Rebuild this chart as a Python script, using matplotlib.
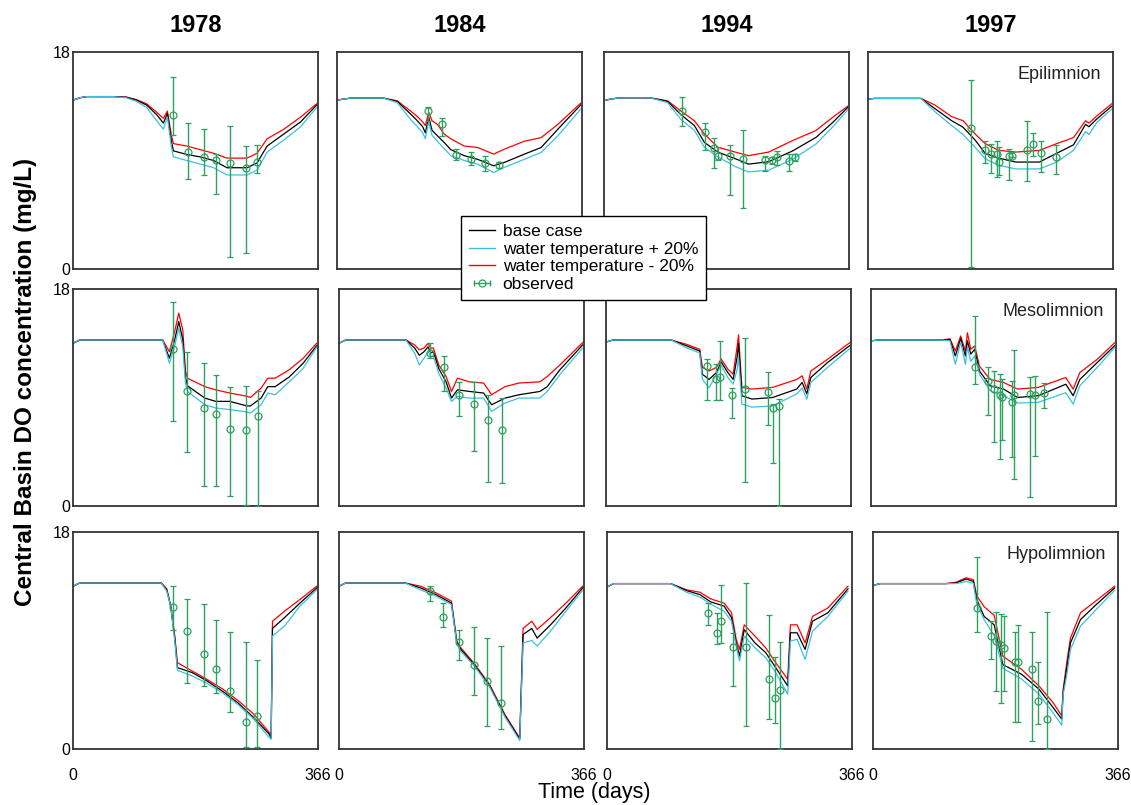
import matplotlib
matplotlib.use('Agg')
from matplotlib import pyplot as plt
from matplotlib.lines import Line2D
from matplotlib.legend_handler import HandlerLine2D, HandlerTuple
import numpy as np

plt.rcParams['font.family'] = ['Liberation Sans', 'DejaVu Sans']

years = ['1978', '1984', '1994', '1997']
layers = ['Epilimnion', 'Mesolimnion', 'Hypolimnion']

# ---- Epilimnion ----
e78_t = [0, 10, 20, 60, 80, 95, 110, 125, 135, 141, 147, 150, 170, 190, 210, 230, 260, 275, 290, 315, 340, 364]
e78_base = [14.0, 14.2, 14.3, 14.3, 14.25, 14.0, 13.6, 12.8, 12.1, 12.9, 10.6, 9.8, 9.5, 9.3, 9.0, 8.4, 8.4, 8.8, 10.2, 11.2, 12.2, 13.6]
e78_warm = [14.0, 14.2, 14.3, 14.3, 14.2, 13.9, 13.4, 12.3, 11.6, 12.6, 10.1, 9.3, 9.0, 8.7, 8.4, 7.8, 7.8, 8.2, 9.7, 10.7, 11.8, 13.4]
e78_cool = [14.0, 14.2, 14.3, 14.3, 14.25, 14.05, 13.7, 13.0, 12.5, 13.1, 11.1, 10.4, 10.2, 9.9, 9.6, 9.2, 9.2, 9.6, 10.8, 11.6, 12.6, 13.7]
e78_ot = [150, 172, 196, 213, 234, 259, 275]
e78_obs = [12.8, 9.7, 9.3, 9.0, 8.8, 8.4, 8.9]
e78_lo = [11.1, 7.5, 7.8, 6.2, 1.0, 1.3, 8.0]
e78_hi = [15.9, 12.1, 11.6, 9.5, 11.9, 10.2, 10.3]

e84_t = [0, 10, 20, 70, 90, 110, 120, 128, 132, 137, 142, 150, 160, 170, 190, 210, 234, 250, 280, 305, 330, 364]
e84_base = [14.0, 14.1, 14.17, 14.17, 13.9, 12.85, 12.3, 11.8, 11.3, 12.6, 11.5, 11.05, 10.5, 9.9, 9.4, 9.1, 8.56, 8.84, 9.53, 10.08, 11.6, 13.6]
e84_warm = [14.0, 14.1, 14.17, 14.17, 13.8, 12.4, 11.8, 11.3, 10.8, 12.2, 11.1, 10.6, 10.0, 9.4, 9.0, 8.7, 8.0, 8.43, 9.1, 9.67, 11.05, 13.26]
e84_cool = [14.0, 14.1, 14.17, 14.17, 13.95, 13.1, 12.65, 12.2, 11.9, 13.0, 12.3, 12.0, 11.2, 10.8, 10.2, 10.08, 9.53, 9.94, 10.6, 10.9, 12.0, 13.75]
e84_ot = [136, 157, 178, 200, 221, 242]
e84_obs = [13.1, 12.0, 9.45, 9.1, 8.8, 8.6]
e84_lo = [12.3, 11.05, 9.0, 8.6, 8.15, 8.35]
e84_hi = [13.45, 12.5, 9.95, 9.7, 9.4, 8.85]

e94_t = [0, 10, 24, 69, 95, 115, 135, 150, 170, 196, 216, 246, 282, 317, 342, 364]
e94_base = [13.96, 14.1, 14.2, 14.2, 13.9, 12.8, 11.9, 10.5, 9.7, 9.15, 8.7, 8.9, 9.8, 10.93, 12.17, 13.4]
e94_warm = [13.96, 14.1, 14.2, 14.2, 13.8, 12.4, 11.5, 10.1, 9.3, 8.5, 8.05, 8.2, 9.1, 10.38, 11.8, 13.2]
e94_cool = [13.96, 14.1, 14.2, 14.2, 13.95, 13.1, 12.3, 11.2, 10.1, 9.7, 9.4, 9.7, 10.66, 11.5, 12.6, 13.5]
e94_ot = [117, 151, 165, 170, 188, 207, 241, 251, 259, 277, 285]
e94_obs = [13.1, 11.4, 10.05, 9.4, 9.34, 9.15, 9.0, 9.05, 9.3, 8.95, 9.3]
e94_lo = [11.85, 9.9, 8.4, 9.0, 6.1, 5.1, 8.1, 8.7, 8.6, 8.1, 8.95]
e94_hi = [14.3, 12.1, 10.9, 10.1, 10.25, 11.5, 9.4, 9.3, 9.8, 9.55, 9.55]

e97_t = [0, 10, 79, 100, 125, 142, 160, 175, 195, 221, 256, 282, 307, 325, 330, 342, 364]
e97_base = [14.1, 14.15, 14.15, 13.3, 12.3, 11.76, 10.7, 9.6, 9.2, 8.87, 8.87, 9.6, 10.3, 12.0, 11.8, 12.45, 13.5]
e97_warm = [14.1, 14.15, 14.15, 13.05, 11.9, 11.15, 10.1, 9.15, 8.6, 8.3, 8.3, 8.87, 9.84, 11.4, 11.15, 12.17, 13.26]
e97_cool = [14.1, 14.15, 14.15, 13.6, 12.64, 12.3, 11.2, 10.4, 9.84, 9.7, 9.84, 10.4, 10.9, 12.3, 12.1, 12.7, 13.7]
e97_ot = [154, 175, 183, 192, 196, 211, 215, 237, 246, 259, 281]
e97_obs = [11.7, 9.84, 9.56, 9.56, 8.87, 9.34, 9.4, 9.84, 10.4, 9.6, 9.3]
e97_lo = [0.2, 8.8, 8.0, 7.6, 7.8, 7.4, 9.3, 7.3, 9.4, 8.05, 7.86]
e97_hi = [15.7, 10.6, 10.4, 10.6, 10.1, 9.97, 9.7, 12.3, 11.3, 10.6, 10.25]

# ---- Mesolimnion ----
m78_t = [0, 10, 20, 134, 144, 152, 158, 164, 168, 171, 197, 213, 234, 260, 265, 281, 291, 302, 323, 344, 364]
m78_base = [13.5, 13.77, 13.77, 13.77, 12.26, 13.8, 15.3, 13.8, 10.7, 9.97, 8.95, 8.68, 8.68, 8.3, 8.3, 8.95, 9.9, 9.9, 10.7, 11.85, 13.3]
m78_warm = [13.5, 13.77, 13.77, 13.77, 11.85, 13.3, 14.74, 13.2, 10.2, 9.5, 8.4, 8.13, 8.0, 7.8, 7.7, 8.4, 9.37, 9.23, 10.3, 11.43, 13.17]
m78_cool = [13.5, 13.77, 13.77, 13.77, 12.8, 14.5, 16.0, 14.6, 11.2, 10.6, 9.9, 9.64, 9.37, 9.1, 9.0, 9.78, 10.6, 10.6, 11.3, 12.26, 13.5]
m78_ot = [150, 171, 196, 213, 234, 259, 276]
m78_obs = [13.0, 9.5, 8.1, 7.66, 6.4, 6.3, 7.5]
m78_lo = [7.08, 4.5, 1.65, 1.65, 0.83, 0.1, 0.0]
m78_hi = [16.9, 12.8, 11.9, 10.9, 9.86, 9.97, 9.5]

m84_t = [0, 10, 20, 100, 113, 120, 127, 133, 137, 141, 149, 160, 168, 177, 195, 216, 228, 248, 269, 300, 311, 330, 364]
m84_base = [13.5, 13.77, 13.77, 13.77, 13.1, 12.5, 12.8, 13.2, 12.7, 12.8, 11.4, 10.3, 8.95, 9.64, 9.5, 9.37, 8.4, 8.95, 9.23, 9.5, 9.9, 11.3, 13.36]
m84_warm = [13.5, 13.77, 13.77, 13.77, 12.67, 11.7, 12.26, 12.8, 12.4, 12.4, 11.0, 9.78, 8.68, 9.1, 8.95, 8.95, 7.85, 8.54, 8.95, 8.95, 9.5, 10.9, 13.1]
m84_cool = [13.5, 13.77, 13.77, 13.77, 13.36, 12.95, 13.1, 13.5, 13.1, 13.1, 11.7, 10.74, 9.5, 10.6, 10.3, 10.2, 9.23, 9.9, 10.2, 10.3, 10.74, 11.7, 13.55]
m84_ot = [136, 157, 180, 201, 222, 243]
m84_obs = [12.7, 11.57, 9.23, 8.5, 7.16, 6.28]
m84_lo = [12.3, 9.5, 7.5, 4.55, 1.98, 1.87]
m84_hi = [13.5, 12.45, 10.25, 10.25, 9.23, 8.95]

m94_t = [0, 10, 20, 98, 121, 140, 144, 154, 165, 172, 182, 190, 196, 198, 203, 218, 249, 285, 293, 300, 306, 331, 364]
m94_base = [13.6, 13.76, 13.76, 13.76, 13.27, 12.86, 10.93, 10.5, 11.07, 11.95, 11.07, 10.5, 12.4, 13.5, 9.15, 8.87, 9.0, 9.7, 10.25, 9.3, 10.66, 11.9, 13.3]
m94_warm = [13.6, 13.76, 13.76, 13.76, 13.1, 12.7, 10.5, 9.8, 10.93, 11.68, 10.66, 10.1, 11.35, 12.4, 8.46, 8.2, 8.3, 9.3, 9.8, 8.87, 10.25, 11.5, 13.05]
m94_cool = [13.6, 13.76, 13.76, 13.76, 13.4, 13.0, 11.5, 11.2, 11.5, 12.2, 11.35, 10.93, 13.27, 14.2, 9.84, 9.7, 9.84, 10.5, 10.8, 9.7, 11.2, 12.17, 13.54]
m94_ot = [151, 164, 171, 188, 207, 242, 250, 258]
m94_obs = [11.6, 10.5, 10.66, 9.2, 9.7, 9.48, 8.1, 8.3]
m94_lo = [8.8, 8.8, 8.8, 7.3, 2.0, 6.7, 3.6, 0.0]
m94_hi = [12.2, 11.76, 13.7, 9.8, 13.9, 11.1, 8.5, 8.87]

m97_t = [0, 10, 106, 118, 126, 134, 141, 144, 149, 155, 162, 178, 198, 219, 250, 291, 302, 312, 338, 364]
m97_base = [13.7, 13.76, 13.76, 13.8, 12.45, 13.9, 12.45, 13.7, 12.6, 13.0, 11.2, 9.97, 9.7, 9.0, 9.15, 10.1, 9.15, 10.5, 11.9, 13.3]
m97_warm = [13.7, 13.76, 13.76, 13.7, 11.75, 13.6, 11.75, 13.2, 12.0, 12.45, 10.93, 9.56, 9.15, 8.54, 8.6, 9.4, 8.46, 9.97, 11.5, 13.13]
m97_cool = [13.7, 13.76, 13.76, 13.87, 12.86, 14.1, 12.86, 14.37, 13.0, 13.27, 11.6, 10.5, 10.25, 9.7, 9.84, 10.66, 9.7, 11.07, 12.17, 13.54]
m97_ot = [155, 175, 183, 192, 196, 210, 213, 237, 245, 259]
m97_obs = [11.5, 10.4, 9.7, 9.2, 9.0, 8.6, 9.2, 9.3, 9.2, 9.37]
m97_lo = [10.1, 7.57, 5.35, 3.87, 5.44, 4.06, 2.28, 0.77, 4.14, 8.1]
m97_hi = [15.8, 11.56, 11.2, 10.94, 10.5, 10.4, 12.9, 10.66, 10.8, 10.2]

# ---- Hypolimnion ----
h78_t = [0, 10, 20, 132, 140, 146, 152, 156, 178, 200, 224, 247, 270, 293, 296, 298, 316, 339, 364]
h78_base = [13.5, 13.77, 13.77, 13.77, 13.2, 11.85, 9.2, 6.75, 6.34, 5.65, 4.77, 3.8, 2.6, 1.24, 0.9, 10.0, 10.9, 12.1, 13.36]
h78_warm = [13.5, 13.77, 13.77, 13.77, 13.1, 11.85, 9.0, 6.53, 6.06, 5.45, 4.63, 3.66, 2.48, 0.96, 0.8, 9.37, 10.2, 11.85, 13.2]
h78_cool = [13.5, 13.77, 13.77, 13.77, 13.3, 11.85, 9.4, 7.16, 6.47, 5.78, 4.96, 4.0, 2.9, 1.38, 1.1, 10.6, 11.43, 12.4, 13.5]
h78_ot = [150, 171, 196, 213, 234, 259, 275]
h78_obs = [11.8, 9.78, 7.85, 6.67, 4.82, 2.2, 2.75]
h78_lo = [9.9, 5.45, 5.23, 4.68, 3.03, 0.14, 0.14]
h78_hi = [13.5, 12.45, 12.0, 10.74, 9.7, 8.87, 7.38]

h84_t = [0, 10, 20, 99, 122, 145, 168, 176, 182, 202, 225, 248, 270, 275, 288, 296, 316, 339, 364]
h84_base = [13.5, 13.77, 13.77, 13.77, 13.36, 12.8, 12.1, 8.8, 8.26, 7.0, 5.23, 2.75, 0.83, 9.5, 10.0, 9.2, 10.3, 11.7, 13.36]
h84_warm = [13.5, 13.77, 13.77, 13.77, 13.2, 12.67, 11.98, 8.7, 8.1, 6.9, 5.15, 2.65, 0.7, 8.8, 9.0, 8.54, 9.78, 11.43, 13.17]
h84_cool = [13.5, 13.77, 13.77, 13.77, 13.5, 12.95, 12.26, 8.95, 8.4, 7.1, 5.35, 2.85, 0.9, 10.0, 10.6, 9.92, 10.9, 12.1, 13.5]
h84_ot = [136, 156, 179, 201, 221, 242]
h84_obs = [13.1, 10.96, 8.87, 6.94, 5.65, 3.8]
h84_lo = [12.26, 10.1, 7.38, 4.46, 1.93, 1.7]
h84_hi = [13.5, 12.1, 9.86, 10.1, 9.2, 8.54]

h94_t = [0, 10, 20, 95, 119, 139, 155, 175, 186, 193, 198, 205, 221, 237, 252, 270, 274, 284, 296, 307, 330, 360]
h94_base = [13.44, 13.72, 13.72, 13.72, 13.14, 12.8, 12.2, 11.85, 10.9, 8.8, 7.7, 9.9, 8.8, 8.0, 6.75, 5.23, 9.64, 9.64, 8.26, 10.6, 11.3, 13.28]
h94_warm = [13.44, 13.72, 13.72, 13.72, 13.0, 12.6, 12.0, 11.43, 10.6, 8.54, 7.3, 9.37, 8.4, 7.58, 6.34, 4.55, 8.95, 9.1, 7.44, 9.78, 11.0, 13.1]
h94_cool = [13.44, 13.72, 13.72, 13.72, 13.2, 13.0, 12.45, 12.1, 11.3, 9.1, 8.26, 10.3, 9.37, 8.4, 7.16, 5.78, 10.3, 10.3, 8.8, 11.0, 11.7, 13.5]
h94_ot = [151, 165, 171, 188, 207, 242, 251, 259]
h94_obs = [11.3, 9.64, 10.6, 8.43, 8.43, 5.84, 4.24, 4.9]
h94_lo = [10.25, 8.68, 8.8, 5.2, 1.93, 2.48, 2.15, 0.0]
h94_hi = [12.1, 11.3, 13.6, 9.6, 13.8, 11.1, 7.66, 8.9]

h97_t = [0, 10, 109, 124, 139, 150, 155, 166, 181, 194, 222, 248, 269, 282, 284, 290, 295, 310, 331, 361]
h97_base = [13.55, 13.72, 13.72, 13.77, 14.1, 13.9, 12.4, 11.0, 10.3, 7.0, 6.2, 4.96, 3.44, 2.48, 4.7, 6.9, 8.8, 10.74, 11.85, 13.36]
h97_warm = [13.55, 13.72, 13.72, 13.72, 13.9, 13.75, 12.0, 10.74, 9.4, 6.7, 5.8, 4.55, 3.0, 1.98, 4.5, 6.3, 8.26, 10.2, 11.43, 13.17]
h97_cool = [13.55, 13.72, 13.72, 13.83, 14.2, 14.05, 12.7, 11.8, 11.1, 7.7, 6.6, 5.23, 3.85, 2.75, 4.9, 7.4, 9.2, 11.3, 12.2, 13.5]
h97_ot = [155, 176, 183, 191, 196, 212, 216, 238, 247, 260]
h97_obs = [11.7, 9.4, 9.0, 8.65, 8.37, 7.2, 7.2, 6.6, 3.97, 2.5]
h97_lo = [9.7, 7.5, 4.8, 3.8, 4.8, 2.2, 2.2, 0.7, 2.07, 0.0]
h97_hi = [15.9, 10.6, 11.4, 11.2, 11.0, 9.7, 10.25, 9.7, 7.2, 11.4]

panels = [
    [(e78_t, e78_base, e78_warm, e78_cool, e78_ot, e78_obs, e78_lo, e78_hi),
     (e84_t, e84_base, e84_warm, e84_cool, e84_ot, e84_obs, e84_lo, e84_hi),
     (e94_t, e94_base, e94_warm, e94_cool, e94_ot, e94_obs, e94_lo, e94_hi),
     (e97_t, e97_base, e97_warm, e97_cool, e97_ot, e97_obs, e97_lo, e97_hi)],
    [(m78_t, m78_base, m78_warm, m78_cool, m78_ot, m78_obs, m78_lo, m78_hi),
     (m84_t, m84_base, m84_warm, m84_cool, m84_ot, m84_obs, m84_lo, m84_hi),
     (m94_t, m94_base, m94_warm, m94_cool, m94_ot, m94_obs, m94_lo, m94_hi),
     (m97_t, m97_base, m97_warm, m97_cool, m97_ot, m97_obs, m97_lo, m97_hi)],
    [(h78_t, h78_base, h78_warm, h78_cool, h78_ot, h78_obs, h78_lo, h78_hi),
     (h84_t, h84_base, h84_warm, h84_cool, h84_ot, h84_obs, h84_lo, h84_hi),
     (h94_t, h94_base, h94_warm, h94_cool, h94_ot, h94_obs, h94_lo, h94_hi),
     (h97_t, h97_base, h97_warm, h97_cool, h97_ot, h97_obs, h97_lo, h97_hi)],
]

c_base = 'black'
c_warm = '#3fbfdf'
c_cool = '#ff0000'
c_obs = '#2ca05e'

# panels were pasted together, so positions are given in pixels
W, H = 1131, 805
row_tops = [52, 289, 532]
row_lefts = [[73, 337, 604, 868], [73, 339, 606, 871], [73, 339, 607, 873]]
pw, ph = 245, 217

fig = plt.figure(figsize=(W / 100, H / 100), dpi=100)

for r in range(3):
    for c in range(4):
        t, base, warm, cool, ot, obs, lo, hi = panels[r][c]
        left = row_lefts[r][c]
        top = row_tops[r]
        ax = fig.add_axes([left / W, 1 - (top + ph) / H, pw / W, ph / H])
        ax.plot(t, cool, color=c_cool, lw=0.9)
        ax.plot(t, base, color=c_base, lw=0.9)
        ax.plot(t, warm, color=c_warm, lw=0.9)
        obs = np.array(obs)
        yerr = [obs - np.array(lo), np.array(hi) - obs]
        ax.errorbar(ot, obs, yerr=yerr, fmt='o', ms=5, mfc='none', mec=c_obs, mew=0.9,
                    ecolor=c_obs, elinewidth=1.0, capsize=2, capthick=1.0, zorder=4)
        ax.set_xlim(0, 366)
        ax.set_ylim(0, 18)
        for s in ax.spines.values():
            s.set_color('#333333')
            s.set_linewidth(1.3)
        ax.tick_params(length=0, labelsize=11.5)
        if r == 2:
            ax.set_xticks([0, 366])
            ax.set_xticklabels(['0', '366'])
            ax.tick_params(axis='x', pad=14)
        else:
            ax.set_xticks([])
        if c == 0:
            ax.set_yticks([0, 18])
            ax.set_yticklabels(['0', '18'])
            ax.tick_params(axis='y', pad=2)
        else:
            ax.set_yticks([])
        if c == 3:
            ax.text(0.95, 0.895, layers[r], transform=ax.transAxes, ha='right', va='center',
                    fontsize=13, color='#222222')
        if r == 0:
            fig.text((left + pw / 2) / W, 1 - 25 / H, years[c], ha='center', va='center',
                     fontsize=17, fontweight='bold')

fig.text(26 / W, 1 - 382 / H, 'Central Basin DO concentration (mg/L)', rotation=90,
         ha='center', va='center', fontsize=17.5, fontweight='bold')
fig.text(594 / W, 1 - 792 / H, 'Time (days)', ha='center', va='center', fontsize=15.5)

h_base = Line2D([], [], color=c_base, lw=1)
h_warm = Line2D([], [], color=c_warm, lw=1)
h_cool = Line2D([], [], color=c_cool, lw=1)
h_caps = Line2D([], [], color=c_obs, lw=1, marker='|', ms=5, mew=1)
h_circ = Line2D([], [], ls='none', marker='o', ms=5, mfc='none', mec=c_obs, mew=0.9)
leg = fig.legend([h_base, h_warm, h_cool, (h_caps, h_circ)],
                 ['base case', 'water temperature + 20%', 'water temperature - 20%', 'observed'],
                 handler_map={h_caps: HandlerLine2D(numpoints=2), h_circ: HandlerLine2D(numpoints=1),
                              tuple: HandlerTuple(ndivide=1, pad=0)},
                 loc='upper left', bbox_to_anchor=(461 / W, 1 - 216 / H), borderaxespad=0,
                 fontsize=12.5, handlelength=1.5, handletextpad=0.45, labelspacing=0.15,
                 borderpad=0.45, fancybox=False, framealpha=1, edgecolor='black')
leg.get_frame().set_linewidth(1.0)

fig.savefig('out.png', dpi=100)
